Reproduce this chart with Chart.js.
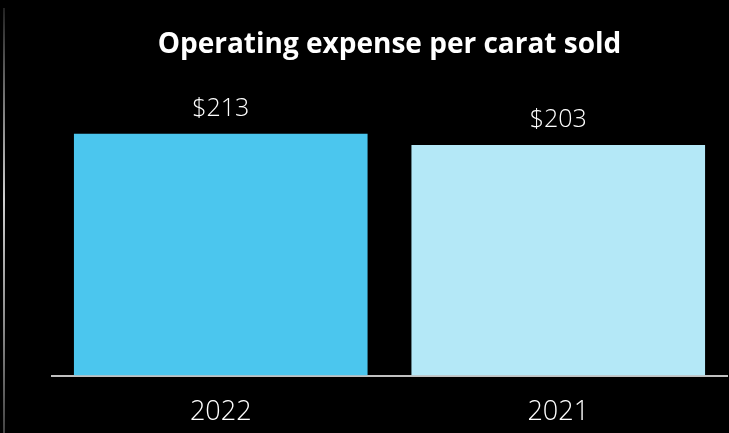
<!DOCTYPE html>
<html>
<head>
<meta charset="utf-8">
<script src="https://cdn.jsdelivr.net/npm/chart.js@4"></script>
<style>
  html, body { margin: 0; padding: 0; background: #000; }
  .wrap { position: relative; width: 729px; height: 433px; background: #000; overflow: hidden; }
  .edge {
    position: absolute; left: 3px; top: 8px; width: 2px; height: 425px;
    background: linear-gradient(#222, #d0d0d0 45%, #8a8a8a 75%, #444);
  }
  canvas { position: absolute; left: 0; top: 0; }
</style>
</head>
<body>
<div class="wrap">
  <div class="edge"></div>
  <canvas id="chart" width="729" height="442"></canvas>
</div>
<script>
const categories = ['2022', '2021'];
const values = [213, 203];
const valueLabels = ['$213', '$203'];
const barColors = ['#4bc6ee', '#b4e8f7'];

// etiquetas de valor encima de cada barra
const valueLabelPlugin = {
  id: 'valueLabels',
  afterDatasetsDraw(chart) {
    const ctx = chart.ctx;
    const meta = chart.getDatasetMeta(0);
    ctx.save();
    ctx.fillStyle = '#ffffff';
    ctx.font = '300 25px "Open Sans", sans-serif';
    ctx.textAlign = 'center';
    ctx.textBaseline = 'middle';
    meta.data.forEach((bar, i) => {
      ctx.fillText(valueLabels[i], bar.x, bar.y - 25);
    });
    ctx.restore();
  }
};

new Chart(document.getElementById('chart'), {
  type: 'bar',
  data: {
    labels: categories,
    datasets: [{
      data: values,
      backgroundColor: barColors,
      borderWidth: 0,
      categoryPercentage: 0.87,
      barPercentage: 1.0
    }]
  },
  options: {
    responsive: false,
    animation: false,
    layout: { padding: { left: 52, right: 2, top: 0, bottom: 0 } },
    plugins: {
      legend: { display: false },
      tooltip: { enabled: false },
      title: {
        display: true,
        text: 'Operating expense per carat sold',
        color: '#ffffff',
        font: { family: '"Open Sans", sans-serif', size: 28, weight: 'bold' },
        padding: { top: 28, bottom: 30 }
      }
    },
    scales: {
      y: {
        display: false,
        min: 0,
        max: 250
      },
      x: {
        grid: { display: false },
        border: { display: true, color: '#c0c0c0', width: 2 },
        ticks: {
          color: '#ffffff',
          font: { family: '"Open Sans", sans-serif', size: 27, weight: '300' },
          padding: 13
        }
      }
    }
  },
  plugins: [valueLabelPlugin]
});
</script>
</body>
</html>
